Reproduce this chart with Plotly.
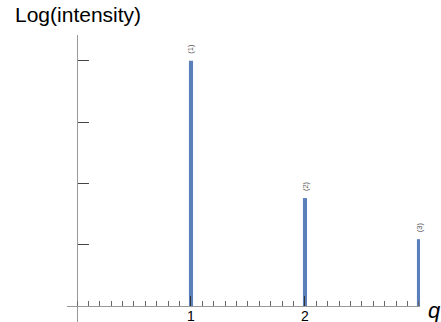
import plotly.graph_objects as go

q_peaks = [1, 2, 3]
log_intensity = [4.0, 1.76, 1.09]
peak_labels = ["(1)", "(2)", "(3)"]
x_tickvals = [1, 2]
x_ticktext = ["1", "2"]
y_tickvals = [1, 2, 3, 4]

W, H = 441, 322
ml, mr, mt, mb = 67, 21, 35, 0
x0, x1 = -0.0877, 3.009
y0, y1 = -0.261, 4.42

fig = go.Figure()
fig.add_trace(go.Bar(x=q_peaks, y=log_intensity, width=0.036,
                     marker=dict(color="#5b7fbb", line=dict(width=0)),
                     hoverinfo="skip"))

for qx, h, lab in zip(q_peaks, log_intensity, peak_labels):
    fig.add_annotation(x=qx, y=h, text=lab, showarrow=False, textangle=-90,
                       yshift=12, font=dict(size=7.5, color="#555555",
                                            family="Liberation Sans"))

fig.add_annotation(xref="paper", yref="paper", x=-0.153, y=1.071,
                   xanchor="left", yanchor="middle", text="Log(intensity)",
                   showarrow=False,
                   font=dict(size=21, color="black", family="Liberation Sans"))
fig.add_annotation(xref="paper", yref="paper", x=1.017, y=0.04,
                   xanchor="left", yanchor="middle", text="<i>q</i>",
                   showarrow=False,
                   font=dict(size=22, color="black", family="Liberation Sans"))

fig.update_layout(
    width=W, height=H, margin=dict(l=ml, r=mr, t=mt, b=mb, autoexpand=False),
    paper_bgcolor="white", plot_bgcolor="white", showlegend=False,
    xaxis=dict(range=[x0, x1], anchor="free", position=(0 - y0) / (y1 - y0),
               automargin=False,
               showline=True, linecolor="#999999", linewidth=1,
               showgrid=False, zeroline=False,
               tickvals=x_tickvals, ticktext=x_ticktext, ticks="inside",
               ticklen=10, tickcolor="#333333", tickwidth=1,
               ticklabelstandoff=-3,
               tickfont=dict(size=14, color="black", family="Liberation Sans"),
               minor=dict(dtick=0.1, tick0=0, ticks="inside", ticklen=5,
                          tickcolor="#666666", tickwidth=1),
               fixedrange=True),
    yaxis=dict(range=[y0, y1], anchor="free", position=(0 - x0) / (x1 - x0),
               automargin=False,
               showline=True, linecolor="#999999", linewidth=1,
               showgrid=False, zeroline=False,
               tickvals=y_tickvals, showticklabels=False, ticks="inside",
               ticklen=11, tickcolor="#444444", tickwidth=1,
               fixedrange=True),
)

fig.write_html("out.html", config={"displayModeBar": False, "staticPlot": True},
               post_script="document.body.style.margin='0';"
                           "document.body.style.overflow='hidden';")
